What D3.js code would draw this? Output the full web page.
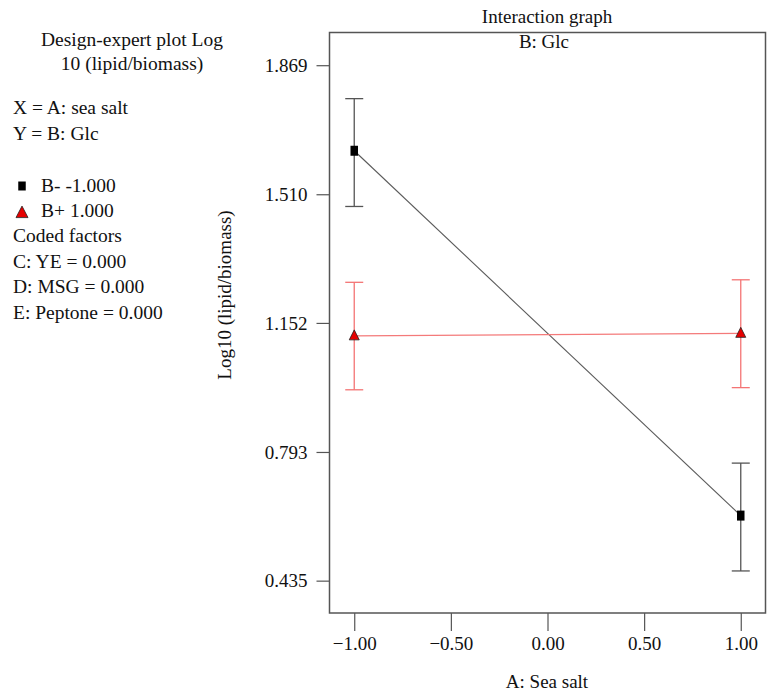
<!DOCTYPE html>
<html>
<head>
<meta charset="utf-8">
<script src="https://cdn.jsdelivr.net/npm/d3@7"></script>
<style>
  body { margin: 0; background: #fff; }
  svg { display: block; }
</style>
</head>
<body>
<svg id="chart" width="768" height="694"></svg>
<script>
// Interaction graph: A (sea salt) x B (Glc)
const xLevels = [-1, 1];
const yTicks = [0.435, 0.793, 1.152, 1.510, 1.869];
const xTicks = [-1, -0.5, 0, 0.5, 1];

const lowMean = [1.631, 0.616];   // B- -1.000
const lowUpper = [1.776, 0.762];
const lowLower = [1.476, 0.462];

const highMean = [1.116, 1.123];  // B+ 1.000
const highUpper = [1.265, 1.272];
const highLower = [0.966, 0.972];

const infoLines = ["X = A: sea salt", "Y = B: Glc"];
const codedLines = ["Coded factors", "C: YE = 0.000", "D: MSG = 0.000", "E: Peptone = 0.000"];

const FONT = '"Liberation Serif", "Times New Roman", serif';

const series = [
    { name: "B- -1.000", mean: lowMean, upper: lowUpper, lower: lowLower, line: "#5a5a5a", bar: "#555", shape: "square" },
    { name: "B+ 1.000", mean: highMean, upper: highUpper, lower: highLower, line: "#f47a7a", bar: "#f47474", shape: "triangle" }
];

const svg = d3.select("#chart");
const frame = { left: 329.5, right: 765.5, top: 32.5, bottom: 613 };

const x = d3.scaleLinear().domain([-1.128, 1.128]).range([frame.left, frame.right]);
const y = d3.scaleLinear().domain([0.345, 1.960]).range([frame.bottom, frame.top]);

function label(sel, size) {
    return sel.style("font-family", FONT).style("font-size", size + "px").attr("fill", "#111");
}

// marker shapes, centred on (0,0)
function markerPath(shape, w, h) {
    const p = d3.path();
    if (shape === "square") {
        p.rect(-w / 2, -h / 2, w, h);
    } else {
        p.moveTo(0, -h * 0.6);
        p.lineTo(w / 2, h * 0.4);
        p.lineTo(-w / 2, h * 0.4);
        p.closePath();
    }
    return p.toString();
}

// axes
const yAxis = svg.append("g")
    .attr("transform", `translate(${frame.left},0)`)
    .call(d3.axisLeft(y).tickValues(yTicks).tickFormat(d3.format(".3f")).tickSize(13).tickPadding(9));
const xAxis = svg.append("g")
    .attr("transform", `translate(0,${frame.bottom})`)
    .call(d3.axisBottom(x).tickValues(xTicks).tickFormat(d3.format(".2f")).tickSize(18).tickPadding(6));

[yAxis, xAxis].forEach(g => {
    g.attr("font-family", null);
    g.select(".domain").remove();
    g.selectAll("line").attr("stroke", "#555").attr("stroke-width", 1.2);
    label(g.selectAll("text"), 19);
});

// frame
svg.append("rect")
    .attr("x", frame.left).attr("y", frame.top)
    .attr("width", frame.right - frame.left).attr("height", frame.bottom - frame.top)
    .attr("fill", "none").attr("stroke", "#555").attr("stroke-width", 1.5);

// titles
label(svg.append("text"), 19).attr("x", 547).attr("y", 23).attr("text-anchor", "middle").text("Interaction graph");
label(svg.append("text"), 19).attr("x", 544).attr("y", 48).attr("text-anchor", "middle").text("B: Glc");
label(svg.append("text"), 19).attr("x", 547).attr("y", 688).attr("text-anchor", "middle").text("A: Sea salt");
label(svg.append("text"), 19)
    .attr("transform", "translate(231,295) rotate(-90)")
    .attr("text-anchor", "middle")
    .text("Log10 (lipid/biomass)");

// series
const capHalf = 9;
series.forEach(s => {
    const g = svg.append("g");
    g.append("path")
        .datum(xLevels.map((lv, i) => [lv, s.mean[i]]))
        .attr("fill", "none").attr("stroke", s.line).attr("stroke-width", 1.1)
        .attr("d", d3.line().x(d => x(d[0])).y(d => y(d[1])));

    xLevels.forEach((lv, i) => {
        const cx = x(lv);
        g.append("line").attr("x1", cx).attr("x2", cx)
            .attr("y1", y(s.upper[i])).attr("y2", y(s.lower[i]))
            .attr("stroke", s.bar).attr("stroke-width", 1.3);
        [s.upper[i], s.lower[i]].forEach(v => {
            g.append("line").attr("x1", cx - capHalf).attr("x2", cx + capHalf)
                .attr("y1", y(v)).attr("y2", y(v))
                .attr("stroke", s.bar).attr("stroke-width", 1.3);
        });
    });

    const isSq = s.shape === "square";
    g.selectAll(".pt").data(xLevels).enter().append("path")
        .attr("transform", (lv, i) => `translate(${x(lv)},${y(s.mean[i])})`)
        .attr("d", isSq ? markerPath("square", 7.5, 10) : markerPath("triangle", 10, 10))
        .attr("fill", isSq ? "#000" : "#e60000")
        .attr("stroke", "#222").attr("stroke-width", isSq ? 0 : 0.8);
});

// left info panel
const PANEL = 19.5;
label(svg.append("text"), PANEL).attr("x", 132).attr("y", 46).attr("text-anchor", "middle").text("Design-expert plot Log");
label(svg.append("text"), PANEL).attr("x", 132).attr("y", 70).attr("text-anchor", "middle").text("10 (lipid/biomass)");
infoLines.forEach((t, i) => {
    label(svg.append("text"), PANEL).attr("x", 13).attr("y", 114 + i * 26).text(t);
});

const legendY = [192, 217];
series.forEach((s, i) => {
    const isSq = s.shape === "square";
    svg.append("path")
        .attr("transform", `translate(22,${isSq ? 186 : 213})`)
        .attr("d", isSq ? markerPath("square", 7.5, 9) : markerPath("triangle", 12, 11.5))
        .attr("fill", isSq ? "#000" : "#e60000")
        .attr("stroke", "#222").attr("stroke-width", isSq ? 0 : 0.8);
    label(svg.append("text"), PANEL).attr("x", 41).attr("y", legendY[i]).text(s.name);
});

codedLines.forEach((t, i) => {
    label(svg.append("text"), PANEL).attr("x", 13).attr("y", 242 + i * 25.6).text(t);
});
</script>
</body>
</html>
